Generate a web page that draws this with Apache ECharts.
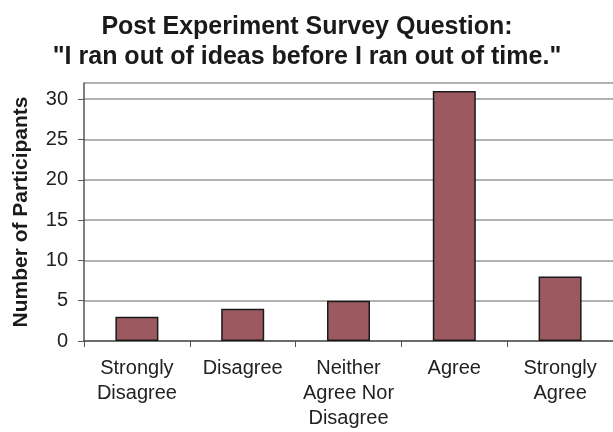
<!DOCTYPE html>
<html>
<head>
<meta charset="utf-8">
<script src="https://cdn.jsdelivr.net/npm/echarts@6/dist/echarts.min.js"></script>
<style>
  html, body { margin: 0; padding: 0; background: #fff; }
  #chart { width: 613px; height: 432px; }
</style>
</head>
<body>
<div id="chart"></div>
<script>
// survey answers and counts
const categories = ['Strongly\nDisagree', 'Disagree', 'Neither\nAgree Nor\nDisagree', 'Agree', 'Strongly\nAgree'];
const participants = [3, 4, 5, 31, 8];

const chart = echarts.init(document.getElementById('chart'));

const option = {
  animation: false,
  title: {
    text: 'Post Experiment Survey Question:\n"I ran out of ideas before I ran out of time."',
    left: 302,
    textAlign: 'center',
    top: 7,
    textStyle: {
      fontFamily: 'Liberation Sans',
      fontWeight: 'bold',
      fontSize: 25,
      lineHeight: 30,
      color: '#1a1a1a'
    }
  },
  grid: {
    left: 84,
    right: -4,
    top: 83,
    bottom: 91
  },
  xAxis: {
    type: 'category',
    data: categories,
    axisLine: { lineStyle: { color: '#555', width: 1.5 } },
    axisTick: { show: true, interval: 0, length: 6, lineStyle: { color: '#555' } },
    axisLabel: {
      interval: 0,
      margin: 15,
      fontFamily: 'Liberation Sans',
      fontSize: 20,
      lineHeight: 25,
      color: '#222'
    }
  },
  yAxis: {
    type: 'value',
    min: 0,
    max: 32,
    interval: 5,
    name: 'Number of Participants',
    nameLocation: 'middle',
    nameGap: 52,
    nameTextStyle: {
      fontFamily: 'Liberation Sans',
      fontWeight: 'bold',
      fontSize: 21,
      color: '#1a1a1a'
    },
    axisLine: { show: true, lineStyle: { color: '#555', width: 1.5 } },
    axisTick: { show: true, length: 6, lineStyle: { color: '#555' } },
    axisLabel: {
      showMaxLabel: false,
      margin: 16,
      fontFamily: 'Liberation Sans',
      fontSize: 20,
      color: '#222'
    },
    splitLine: { lineStyle: { color: '#999', width: 1.5 } }
  },
  series: [{
    type: 'bar',
    data: participants,
    barWidth: 43,
    itemStyle: {
      color: '#9c5a60',
      borderColor: '#1a1a1a',
      borderWidth: 1.5
    }
  }]
};

chart.setOption(option);
</script>
</body>
</html>
